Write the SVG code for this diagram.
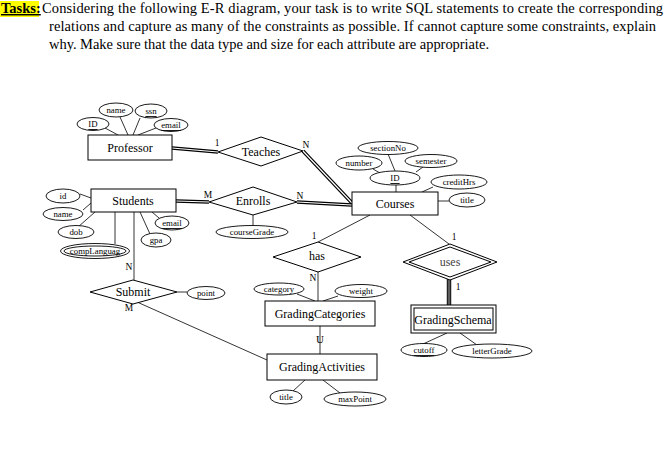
<svg xmlns="http://www.w3.org/2000/svg" width="666" height="456" viewBox="0 0 666 456">
<style>
text{font-family:"Liberation Serif","DejaVu Serif",serif;fill:#000}
.hdr{font-size:14.5px}
.ent{font-size:12px;text-anchor:middle;dominant-baseline:central}
.att{font-size:8.8px;text-anchor:middle;dominant-baseline:central}
.lbl{font-size:9.5px;text-anchor:middle}
.box{fill:#fff;stroke:#000;stroke-width:1}
.ell{fill:#fff;stroke:#000;stroke-width:0.9}
.ln{stroke:#000;stroke-width:0.8;fill:none}
.dbo{stroke:#000;stroke-width:3.6;fill:none}
.dbi{stroke:#fff;stroke-width:1.2;fill:none}
</style>
<rect width="666" height="456" fill="#fff"/>
<g id="header">
<rect x="0" y="1" width="39" height="16" fill="#ffff00"/>
<text class="hdr" x="1" y="13" font-weight="bold" text-decoration="underline">Tasks:</text>
<text class="hdr" x="42" y="13" textLength="621" lengthAdjust="spacing">Considering the following E-R diagram, your task is to write SQL statements to create the corresponding</text>
<text class="hdr" x="49" y="31" textLength="607" lengthAdjust="spacing">relations and capture as many of the constraints as possible.  If cannot capture some constraints, explain</text>
<text class="hdr" x="49" y="49" textLength="440" lengthAdjust="spacing">why. Make sure that the data type and size for each attribute are appropriate.</text>
</g>
<g id="connectors">
<line class="ln" x1="105" y1="128" x2="118" y2="135"/>
<line class="ln" x1="120" y1="117" x2="128" y2="135"/>
<line class="ln" x1="140" y1="118" x2="133" y2="135"/>
<line class="ln" x1="156" y1="128" x2="138" y2="135"/>
<path class="dbo" d="M172,148 L218,152"/><path class="dbi" d="M172,148 L218,152"/>
<path class="dbo" d="M303,151 L352,203"/><path class="dbi" d="M303,151 L352,203"/>
<path class="dbo" d="M176,201 L209,202"/><path class="dbi" d="M176,201 L209,202"/>
<path class="dbo" d="M297,202 L352,205"/><path class="dbi" d="M297,202 L352,205"/>
<line class="ln" x1="253" y1="215" x2="253" y2="226"/>
<line class="ln" x1="388" y1="154" x2="395" y2="171"/>
<line class="ln" x1="373" y1="169" x2="380" y2="173"/>
<line class="ln" x1="423" y1="167" x2="416" y2="172"/>
<line class="ln" x1="396" y1="185" x2="396" y2="192"/>
<line class="ln" x1="433" y1="187" x2="422" y2="192"/>
<line class="ln" x1="438" y1="201" x2="449" y2="201"/>
<line class="ln" x1="80" y1="194" x2="91" y2="198"/>
<line class="ln" x1="83" y1="210" x2="91" y2="203"/>
<line class="ln" x1="78" y1="227" x2="95" y2="212"/>
<line class="ln" x1="115" y1="212" x2="115" y2="244"/>
<line class="ln" x1="152" y1="212" x2="159" y2="218"/>
<line class="ln" x1="140" y1="212" x2="150" y2="234"/>
<line class="ln" x1="134" y1="212" x2="134" y2="280"/>
<line class="ln" x1="177" y1="292" x2="187" y2="292"/>
<line class="ln" x1="137" y1="302" x2="267" y2="360"/>
<line class="ln" x1="370" y1="215" x2="318" y2="242"/>
<line class="ln" x1="318" y1="272" x2="318" y2="301"/>
<line class="ln" x1="297" y1="294" x2="315" y2="301"/>
<line class="ln" x1="338" y1="296" x2="323" y2="301"/>
<line class="ln" x1="320" y1="326" x2="320" y2="354"/>
<line class="ln" x1="293" y1="391" x2="305" y2="380"/>
<line class="ln" x1="340" y1="393" x2="323" y2="380"/>
<line class="ln" x1="410" y1="215" x2="449" y2="244"/>
<line stroke="#222" stroke-width="4.5" x1="449" y1="279" x2="449" y2="305"/>
<line stroke="#999" stroke-width="1" x1="449" y1="279" x2="449" y2="305"/>
<line class="ln" x1="423" y1="344" x2="447" y2="333"/>
<line class="ln" x1="477" y1="345" x2="460" y2="333"/>
<text class="lbl" x="217" y="146">1</text>
<text class="lbl" x="306" y="148">N</text>
<text class="lbl" x="208" y="198">M</text>
<text class="lbl" x="300" y="199">N</text>
<text class="lbl" x="314" y="239">1</text>
<text class="lbl" x="313" y="281">N</text>
<text class="lbl" x="129" y="270">N</text>
<text class="lbl" x="129" y="311">M</text>
<text class="lbl" x="454" y="240">1</text>
<text class="lbl" x="458" y="290">1</text>
<text x="320" y="343" font-size="11" text-anchor="middle" font-family="Liberation Sans, sans-serif">U</text>
</g>
<g id="professor">
<rect class="box" x="88" y="135" width="84" height="25"/>
<text class="ent" x="130" y="148">Professor</text>
</g>
<g id="prof-id"><ellipse class="ell" cx="93" cy="124" rx="16" ry="6.5"/><text class="att" x="93" y="124" text-decoration="underline">ID</text></g>
<g id="prof-name"><ellipse class="ell" cx="116" cy="110" rx="17" ry="7"/><text class="att" x="116" y="110">name</text></g>
<g id="prof-ssn"><ellipse class="ell" cx="151" cy="111" rx="16" ry="7"/><text class="att" x="151" y="111" text-decoration="underline">ssn</text></g>
<g id="prof-email"><ellipse class="ell" cx="171" cy="125" rx="17" ry="6.5"/><text class="att" x="171" y="125" text-decoration="underline">email</text></g>
<g id="teaches">
<polygon class="box" points="218,152 261,137 303,151 261,166"/>
<text class="ent" x="261" y="152" font-size="11">Teaches</text>
</g>
<g id="courses">
<rect class="box" x="352" y="192" width="86" height="23"/>
<text class="ent" x="395" y="204">Courses</text>
</g>
<g id="c-id"><ellipse class="ell" cx="395" cy="178" rx="25" ry="7"/><text class="att" x="395" y="178" text-decoration="underline">ID</text></g>
<g id="c-section"><ellipse class="ell" cx="388" cy="148" rx="30" ry="6.5"/><text class="att" x="388" y="148">sectionNo</text></g>
<g id="c-number"><ellipse class="ell" cx="359" cy="163" rx="23" ry="7"/><text class="att" x="359" y="163">number</text></g>
<g id="c-semester"><ellipse class="ell" cx="431" cy="161" rx="26" ry="6.5"/><text class="att" x="431" y="161">semester</text></g>
<g id="c-credit"><ellipse class="ell" cx="459" cy="182" rx="28" ry="7"/><text class="att" x="459" y="182">creditHrs</text></g>
<g id="c-title"><ellipse class="ell" cx="467" cy="200" rx="18" ry="7"/><text class="att" x="467" y="200">title</text></g>
<g id="students">
<rect class="box" x="91" y="189" width="85" height="23"/>
<text class="ent" x="133" y="201">Students</text>
</g>
<g id="s-id"><ellipse class="ell" cx="63" cy="196" rx="17" ry="7"/><text class="att" x="63" y="196">id</text></g>
<g id="s-name"><ellipse class="ell" cx="63" cy="214" rx="20" ry="6.5"/><text class="att" x="63" y="214">name</text></g>
<g id="s-dob"><ellipse class="ell" cx="76" cy="232" rx="18" ry="6.5"/><text class="att" x="76" y="232">dob</text></g>
<g id="s-lang"><ellipse class="ell" cx="95" cy="251" rx="34.5" ry="7.5" stroke-width="1.3"/><ellipse class="ell" cx="95" cy="251" rx="31" ry="5" stroke-width="0.9"/><text class="att" x="95" y="251" font-size="6.3">compLanguag</text></g>
<g id="s-email"><ellipse class="ell" cx="172" cy="223" rx="17" ry="7"/><text class="att" x="172" y="223" text-decoration="underline">email</text></g>
<g id="s-gpa"><ellipse class="ell" cx="156" cy="240" rx="15" ry="7"/><text class="att" x="156" y="240">gpa</text></g>
<g id="enrolls">
<polygon class="box" points="209,202 253,187 297,202 253,215"/>
<text class="ent" x="253" y="201" font-size="11">Enrolls</text>
</g>
<g id="coursegrade"><ellipse class="ell" cx="252" cy="232" rx="36" ry="6.5"/><text class="att" x="252" y="232">courseGrade</text></g>
<g id="has">
<polygon class="box" points="273,257 318,242 361,257 318,272"/>
<text class="ent" x="317" y="256" font-size="10.5">has</text>
</g>
<g id="submit">
<polygon class="box" points="90,292 133,280 177,292 133,304"/>
<text class="ent" x="133" y="292" font-size="10">Submit</text>
</g>
<g id="point"><ellipse class="ell" cx="206" cy="293" rx="19" ry="6.5"/><text class="att" x="206" y="293">point</text></g>
<g id="gradingcategories">
<rect class="box" x="265" y="301" width="110" height="25"/>
<text class="ent" x="320" y="314">GradingCategories</text>
</g>
<g id="gc-category"><ellipse class="ell" cx="279" cy="289" rx="25" ry="6"/><text class="att" x="279" y="289">category</text></g>
<g id="gc-weight"><ellipse class="ell" cx="361" cy="291" rx="26" ry="6.5"/><text class="att" x="361" y="291">weight</text></g>
<g id="gradingactivities">
<rect class="box" x="267" y="354" width="110" height="26"/>
<text class="ent" x="322" y="367">GradingActivities</text>
</g>
<g id="ga-title"><ellipse class="ell" cx="286" cy="397" rx="16" ry="7"/><text class="att" x="286" y="397">title</text></g>
<g id="ga-maxpoint"><ellipse class="ell" cx="355" cy="399" rx="31" ry="7"/><text class="att" x="355" y="399">maxPoint</text></g>
<g id="uses">
<polygon class="box" points="403,262 450,244 497,262 450,280" stroke-width="1.2"/>
<polygon class="box" points="409,262 450,247 491,262 450,277"/>
<text class="ent" x="450" y="262" font-size="10" style="fill:#444">uses</text>
</g>
<g id="gradingschema">
<rect class="box" x="411" y="305" width="85" height="28" stroke-width="1.3"/>
<rect class="box" x="414" y="308" width="79" height="22"/>
<text class="ent" x="453" y="320" font-size="12.5">GradingSchema</text>
</g>
<g id="gs-cutoff"><ellipse class="ell" cx="424" cy="350" rx="23" ry="6.5"/><text class="att" x="424" y="350" text-decoration="underline">cutoff</text></g>
<g id="gs-lettergrade"><ellipse class="ell" cx="492" cy="351" rx="40" ry="7"/><text class="att" x="492" y="351">letterGrade</text></g>
</svg>
